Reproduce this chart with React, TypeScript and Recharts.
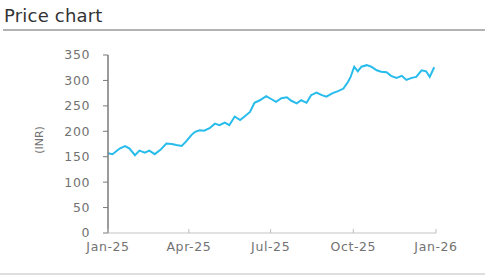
import React from 'react';
import { LineChart, Line, XAxis, YAxis } from 'recharts';

const dates: string[] = [
  '2025-01-01', '2025-01-06', '2025-01-14', '2025-01-20', '2025-01-25', '2025-01-31',
  '2025-02-05', '2025-02-11', '2025-02-16', '2025-02-22', '2025-02-28',
  '2025-03-07', '2025-03-13', '2025-03-18', '2025-03-24', '2025-03-29',
  '2025-04-04', '2025-04-08', '2025-04-13', '2025-04-18', '2025-04-24', '2025-04-30',
  '2025-05-05', '2025-05-11', '2025-05-16', '2025-05-22', '2025-05-28',
  '2025-06-02', '2025-06-08', '2025-06-13', '2025-06-19', '2025-06-26',
  '2025-07-02', '2025-07-07', '2025-07-13', '2025-07-19', '2025-07-24', '2025-07-30',
  '2025-08-04', '2025-08-10', '2025-08-15', '2025-08-21', '2025-08-27',
  '2025-09-01', '2025-09-08', '2025-09-14', '2025-09-20', '2025-09-25', '2025-09-28',
  '2025-10-02', '2025-10-06', '2025-10-10', '2025-10-16', '2025-10-21', '2025-10-27',
  '2025-11-01', '2025-11-07', '2025-11-12', '2025-11-18', '2025-11-24', '2025-11-29',
  '2025-12-05', '2025-12-10', '2025-12-16', '2025-12-21', '2025-12-25', '2025-12-30',
];

const prices: number[] = [
  157, 155, 166, 171, 166, 153,
  162, 158, 162, 155, 163,
  176, 175, 173, 171, 180,
  193, 199, 202, 201, 206, 215,
  212, 217, 212, 229, 222,
  229, 238, 256, 261, 269,
  263, 258, 265, 267, 260, 255,
  261, 256, 271, 276, 271,
  268, 275, 279, 284, 297, 307,
  327, 318, 327, 330, 327, 320,
  317, 316, 309, 305, 309, 301,
  305, 307, 320, 318, 307, 326,
];

const xTickDates: string[] = ['2025-01-01', '2025-04-01', '2025-07-01', '2025-10-01', '2026-01-01'];
const xTickLabels: string[] = ['Jan-25', 'Apr-25', 'Jul-25', 'Oct-25', 'Jan-26'];
const yTicks: number[] = [0, 50, 100, 150, 200, 250, 300, 350];

const toT = (s: string) => Date.parse(s + 'T00:00:00Z');
const data = dates.map((d, i) => ({ t: toT(d), price: prices[i] }));
const xTicks = xTickDates.map(toT);
const labelFor = (v: number) => {
  const i = xTicks.indexOf(v);
  return i >= 0 ? xTickLabels[i] : '';
};

const FONT = '"DejaVu Sans", sans-serif';
const TICK_COLOR = '#727272';

const XTick = (props: any) => {
  const { x, y, payload } = props;
  return (
    <g>
      <line x1={x} x2={x} y1={y - 12} y2={y - 16} stroke="#bdbdbd" strokeWidth={1} />
      <text x={x} y={y} dy={6} textAnchor="middle" fill={TICK_COLOR} fontSize={12.5} fontFamily={FONT} letterSpacing={0.6}>
        {labelFor(payload.value)}
      </text>
    </g>
  );
};

const YLabel = () => {
  const cy = 140;
  const cx = 39;
  return (
    <text x={cx} y={cy} transform={`rotate(-90, ${cx}, ${cy})`} textAnchor="middle" dominantBaseline="central"
      fill={TICK_COLOR} fontSize={11} fontFamily={FONT}>
      (INR)
    </text>
  );
};

export default function App() {
  return (
    <div style={{ position: 'absolute', left: 0, top: 0, width: 500, height: 280, background: '#fff', fontFamily: FONT }}>
      <div style={{ position: 'absolute', left: 4, top: 4, fontSize: 18, color: '#333', fontFamily: FONT, lineHeight: '24px', letterSpacing: 0.2 }}>
        Price chart
      </div>
      <div style={{ position: 'absolute', left: 3, top: 29, width: 482, height: 2, background: '#b3b3b3' }} />
      <div style={{ position: 'absolute', left: 0, top: 273, width: 485, height: 2, background: '#dedede' }} />
      <div style={{ position: 'absolute', left: 0, top: 0 }}>
        <LineChart width={500} height={280} data={data} margin={{ top: 55, right: 64, bottom: 17, left: 8 }}>
          <XAxis
            dataKey="t"
            type="number"
            scale="time"
            domain={[xTicks[0], xTicks[xTicks.length - 1]]}
            ticks={xTicks}
            height={30}
            tickLine={false}
            tickSize={0}
            tickMargin={12}
            axisLine={{ stroke: '#c4c4c4', strokeWidth: 1 }}
            tick={<XTick />}
            interval={0}
          />
          <YAxis
            domain={[0, 350]}
            ticks={yTicks}
            width={100}
            tickSize={5}
            tickMargin={13}
            axisLine={{ stroke: '#7a7a7a', strokeWidth: 1.5 }}
            tickLine={{ stroke: '#7a7a7a' }}
            tick={{ fill: TICK_COLOR, fontSize: 12.5, fontFamily: FONT, letterSpacing: 0.6 }}
            interval={0}
            label={<YLabel />}
          />
          <Line
            type="linear"
            dataKey="price"
            stroke="#27bcec"
            strokeWidth={2}
            dot={false}
            isAnimationActive={false}
          />
        </LineChart>
      </div>
    </div>
  );
}
